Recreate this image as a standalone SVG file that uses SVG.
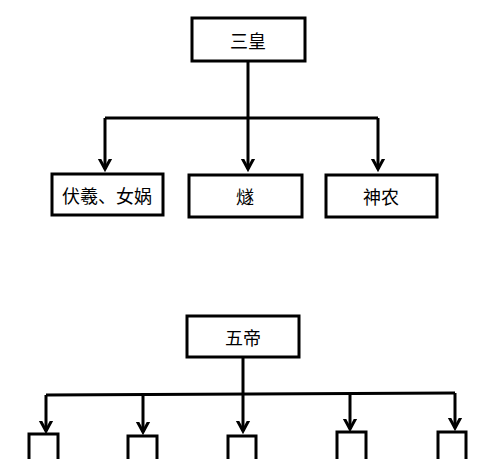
<svg xmlns="http://www.w3.org/2000/svg" width="500" height="459" viewBox="0 0 500 459">
<style>
.box{fill:#fff;stroke:#000;stroke-width:3}
.ln{fill:none;stroke:#000;stroke-width:3}
.arr{fill:none;stroke:#000;stroke-width:3;marker-end:url(#ah)}
text{font-family:"Noto Sans CJK SC","Noto Sans",sans-serif;font-size:18px;fill:#000;text-anchor:middle;dominant-baseline:central}
</style>
<defs>
<marker id="ah" markerUnits="userSpaceOnUse" markerWidth="20" markerHeight="20" viewBox="-10 -10 20 20" refX="0" refY="0" orient="auto">
<path d="M-12,-6.5 L0,0 L-12,6.5" fill="none" stroke="#000" stroke-width="3"/>
</marker>
</defs>
<rect width="500" height="459" fill="#fff"/>
<g id="connectors">
<line class="arr" x1="248" y1="61" x2="248" y2="169"/>
<line class="ln" x1="105" y1="118" x2="378" y2="118"/>
<line class="arr" x1="105" y1="118" x2="105" y2="169"/>
<line class="arr" x1="378" y1="118" x2="378" y2="169"/>
<line class="arr" x1="243" y1="357" x2="243" y2="431"/>
<line class="ln" x1="46" y1="395" x2="455" y2="393"/>
<line class="arr" x1="46" y1="395" x2="46" y2="431"/>
<line class="arr" x1="143" y1="394.5" x2="143" y2="432"/>
<line class="arr" x1="350" y1="393.5" x2="350" y2="429"/>
<line class="arr" x1="455" y1="393" x2="455" y2="428"/>
</g>
<g id="sanhuang"><rect class="box" x="192" y="18" width="113" height="43"/><text x="248" y="40">三皇</text></g>
<g id="fuxi"><rect class="box" x="52" y="174" width="111" height="41"/><text x="107" y="195">伏羲、女娲</text></g>
<g id="sui"><rect class="box" x="189" y="175" width="113" height="42"/><text x="245" y="196">燧</text></g>
<g id="shennong"><rect class="box" x="326" y="175" width="111" height="42"/><text x="381" y="196">神农</text></g>
<g id="wudi"><rect class="box" x="187" y="316" width="112" height="41"/><text x="243" y="337">五帝</text></g>
<g id="d1"><rect class="box" x="29" y="434" width="29" height="40"/></g>
<g id="d2"><rect class="box" x="128" y="436" width="29" height="40"/></g>
<g id="d3"><rect class="box" x="228" y="436" width="28" height="40"/></g>
<g id="d4"><rect class="box" x="337" y="432" width="29" height="40"/></g>
<g id="d5"><rect class="box" x="438" y="432" width="28" height="40"/></g>
</svg>
